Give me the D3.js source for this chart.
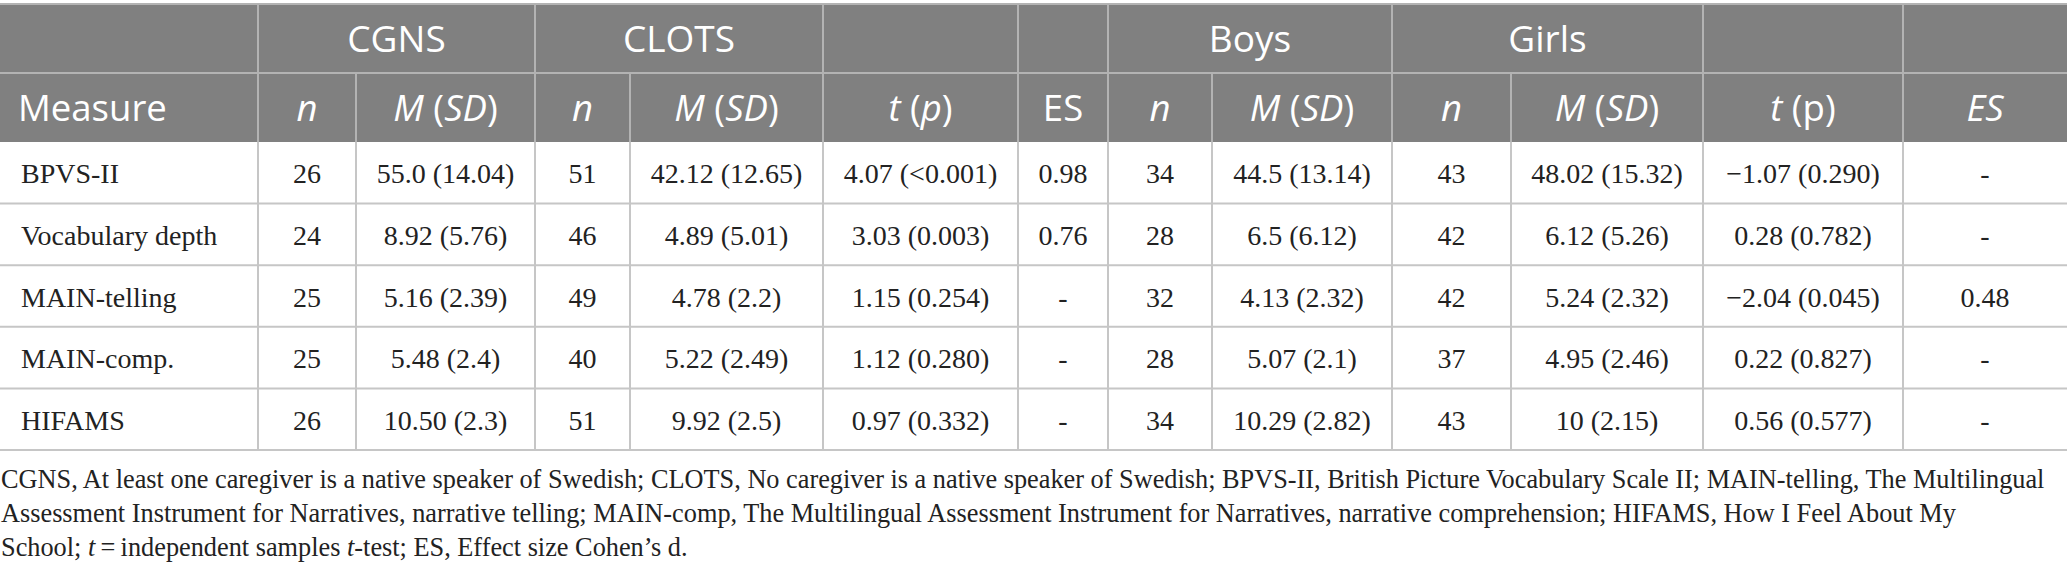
<!DOCTYPE html>
<html>
<head>
<meta charset="utf-8">
<script src="https://cdn.jsdelivr.net/npm/d3@7/dist/d3.min.js"></script>
<style>
  html, body { margin: 0; padding: 0; background: #fff; }
  svg { display: block; }
</style>
</head>
<body>
<div id="chart"></div>
<script>
// table values
const measures = ['BPVS-II', 'Vocabulary depth', 'MAIN-telling', 'MAIN-comp.', 'HIFAMS'];
const cgnsN = ['26', '24', '25', '25', '26'];
const cgnsM = ['55.0 (14.04)', '8.92 (5.76)', '5.16 (2.39)', '5.48 (2.4)', '10.50 (2.3)'];
const clotsN = ['51', '46', '49', '40', '51'];
const clotsM = ['42.12 (12.65)', '4.89 (5.01)', '4.78 (2.2)', '5.22 (2.49)', '9.92 (2.5)'];
const groupT = ['4.07 (<0.001)', '3.03 (0.003)', '1.15 (0.254)', '1.12 (0.280)', '0.97 (0.332)'];
const groupES = ['0.98', '0.76', '-', '-', '-'];
const boysN = ['34', '28', '32', '28', '34'];
const boysM = ['44.5 (13.14)', '6.5 (6.12)', '4.13 (2.32)', '5.07 (2.1)', '10.29 (2.82)'];
const girlsN = ['43', '42', '42', '37', '43'];
const girlsM = ['48.02 (15.32)', '6.12 (5.26)', '5.24 (2.32)', '4.95 (2.46)', '10 (2.15)'];
const genderT = ['\u22121.07 (0.290)', '0.28 (0.782)', '\u22122.04 (0.045)', '0.22 (0.827)', '0.56 (0.577)'];
const genderES = ['-', '-', '0.48', '-', '-'];

// group headers: [label, first col, last col]
const groups = [['', 0, 0], ['CGNS', 1, 2], ['CLOTS', 3, 4], ['', 5, 5], ['', 6, 6],
                ['Boys', 7, 8], ['Girls', 9, 10], ['', 11, 11], ['', 12, 12]];
// column headers as [text, italic] runs
const colHeads = [
  [['Measure', 0]], [['n', 1]], [['M', 1], [' (', 0], ['SD', 1], [')', 0]],
  [['n', 1]], [['M', 1], [' (', 0], ['SD', 1], [')', 0]],
  [['t', 1], [' (', 0], ['p', 1], [')', 0]], [['ES', 0]],
  [['n', 1]], [['M', 1], [' (', 0], ['SD', 1], [')', 0]],
  [['n', 1]], [['M', 1], [' (', 0], ['SD', 1], [')', 0]],
  [['t', 1], [' (p)', 0]], [['ES', 1]]
];
const footLines = [
  [['CGNS, At least one caregiver is a native speaker of Swedish; CLOTS, No caregiver is a native speaker of Swedish; BPVS-II, British Picture Vocabulary Scale II; MAIN-telling, The Multilingual', 0]],
  [['Assessment Instrument for Narratives, narrative telling; MAIN-comp, The Multilingual Assessment Instrument for Narratives, narrative comprehension; HIFAMS, How I Feel About My', 0]],
  [['School; ', 0], ['t', 1], ['\u2009=\u2009independent samples ', 0], ['t', 1], ['-test; ES, Effect size Cohen\u2019s d.', 0]]
];

const W = 2067, H = 577;
const edges = [0, 258, 356, 535, 630, 823, 1018, 1108, 1212, 1392, 1511, 1703, 1903, 2067];
const headTop = 4, headMid = 73, headBot = 142, tableBot = 450;
const HEAD_BG = '#808080', HEAD_LINE = '#b3b3b3', GRID = '#c6c6c6', INK = '#222';
const sans = "'Open Sans', 'Noto Sans', sans-serif";
const serif = "'Liberation Serif', 'DejaVu Serif', serif";

const columns = [measures, cgnsN, cgnsM, clotsN, clotsM, groupT, groupES,
                 boysN, boysM, girlsN, girlsM, genderT, genderES];

const svg = d3.select('#chart').append('svg').attr('width', W).attr('height', H);
const y = d3.scaleBand().domain(d3.range(measures.length)).range([headBot, tableBot]);
const cx = i => (edges[i] + edges[i + 1]) / 2;

function runs(sel, parts) {
  parts.forEach(([t, it]) => sel.append('tspan').text(t).attr('font-style', it ? 'italic' : 'normal'));
}

// header background
svg.append('rect').attr('x', 0).attr('y', headTop).attr('width', W).attr('height', headBot - headTop)
  .attr('fill', HEAD_BG);

// header lines
const hl = svg.append('g').attr('stroke', HEAD_LINE).attr('stroke-width', 2);
hl.append('line').attr('x1', 0).attr('x2', W).attr('y1', headTop).attr('y2', headTop);
hl.append('line').attr('x1', 0).attr('x2', W).attr('y1', headMid).attr('y2', headMid);
groups.slice(1).forEach(([, a]) => hl.append('line').attr('x1', edges[a]).attr('x2', edges[a])
  .attr('y1', headTop).attr('y2', headMid));
edges.slice(1, -1).forEach(e => hl.append('line').attr('x1', e).attr('x2', e)
  .attr('y1', headMid).attr('y2', headBot));

// group labels
groups.forEach(([label, a, b]) => {
  if (!label) return;
  svg.append('text').attr('x', (edges[a] + edges[b + 1]) / 2).attr('y', (headTop + headMid) / 2)
    .attr('dy', '0.36em').attr('text-anchor', 'middle')
    .attr('font-family', sans).attr('font-size', 37).attr('fill', '#fff').text(label);
});

// column labels
colHeads.forEach((parts, i) => {
  const t = svg.append('text')
    .attr('x', i === 0 ? 18 : cx(i)).attr('y', (headMid + headBot) / 2).attr('dy', '0.36em')
    .attr('text-anchor', i === 0 ? 'start' : 'middle')
    .attr('font-family', sans).attr('font-size', 36.5).attr('fill', '#fff');
  runs(t, parts);
});

// body grid
const gl = svg.append('g').attr('stroke', GRID).attr('stroke-width', 2);
measures.forEach((m, r) => gl.append('line').attr('x1', 0).attr('x2', W)
  .attr('y1', y(r) + y.bandwidth()).attr('y2', y(r) + y.bandwidth()));
edges.slice(1, -1).forEach(e => gl.append('line').attr('x1', e).attr('x2', e)
  .attr('y1', headBot).attr('y2', tableBot));

// body cells
columns.forEach((col, i) => {
  col.forEach((v, r) => {
    svg.append('text')
      .attr('x', i === 0 ? 21 : cx(i)).attr('y', y(r) + y.bandwidth() / 2)
      .attr('dy', '0.38em').attr('text-anchor', i === 0 ? 'start' : 'middle')
      .attr('font-family', serif).attr('font-size', 28).attr('fill', INK).text(v);
  });
});

// footnote
footLines.forEach((parts, k) => {
  const t = svg.append('text')
    .attr('x', 1).attr('y', 480 + k * 34)
    .attr('dy', '0.3em').attr('font-family', serif).attr('font-size', 26.3).attr('fill', INK);
  runs(t, parts);
});
</script>
</body>
</html>
